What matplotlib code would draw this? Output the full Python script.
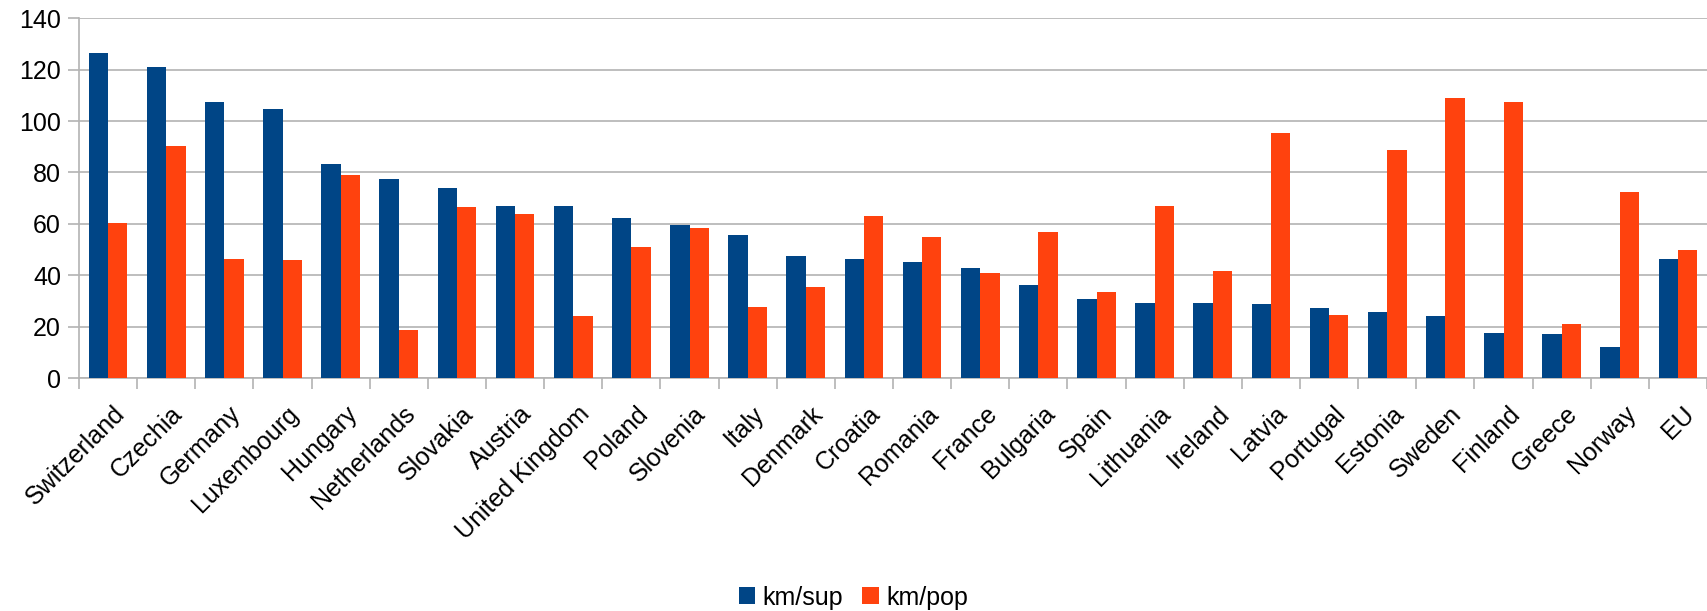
import numpy as np
import matplotlib.pyplot as plt
import matplotlib.transforms as mtransforms
from matplotlib.ticker import FixedLocator

plt.rcParams['font.family'] = ['Liberation Sans', 'DejaVu Sans']

# -------------------
# Data
# -------------------

countries = [
    "Switzerland", "Czechia", "Germany", "Luxembourg", "Hungary",
    "Netherlands", "Slovakia", "Austria", "United Kingdom", "Poland",
    "Slovenia", "Italy", "Denmark", "Croatia", "Romania", "France",
    "Bulgaria", "Spain", "Lithuania", "Ireland", "Latvia", "Portugal",
    "Estonia", "Sweden", "Finland", "Greece", "Norway", "EU",
]

km_sup = [
    126.5, 121.1, 107.5, 104.7, 83.4, 77.5, 74.0, 67.0, 67.0, 62.1,
    59.6, 55.7, 47.6, 46.4, 45.2, 42.9, 36.3, 30.9, 29.3, 29.3,
    28.9, 27.4, 25.8, 24.2, 17.6, 17.2, 12.2, 46.4,
]

km_pop = [
    60.4, 90.4, 46.4, 46.0, 79.1, 18.8, 66.6, 63.9, 24.2, 51.1,
    58.5, 27.7, 35.5, 63.1, 55.0, 41.0, 56.9, 33.6, 67.0, 41.7,
    95.4, 24.6, 88.8, 109.0, 107.5, 21.1, 72.5, 49.9,
]

# -------------------
# Figure
# -------------------

fig = plt.figure(figsize=(17.07, 6.11), dpi=100)
ax = fig.add_axes([0.0463, 0.3813, 0.9537, 0.5887])

x = np.arange(len(countries))
w = 1/3
grey = "#b3b3b3"

ax.bar(x - w/2, km_sup, width=w, color="#004586", label="km/sup", zorder=3)
ax.bar(x + w/2, km_pop, width=w, color="#ff420e", label="km/pop", zorder=3)

ax.set_xlim(-0.5, len(countries) - 0.5)
ax.set_ylim(0, 140)
ax.set_yticks(np.arange(0, 141, 20))
ax.yaxis.grid(True, color=grey, linewidth=1.2, zorder=0)

# category labels in the middle, tick marks on the boundaries
ax.set_xticks(x)
ax.set_xticklabels(countries, rotation=45, ha="right", va="top",
                   rotation_mode="anchor", fontsize=18)
ax.tick_params(axis="x", which="major", length=0, pad=17)
shift = mtransforms.ScaledTranslation(4/100, 0, fig.dpi_scale_trans)
for lab in ax.get_xticklabels():
    lab.set_transform(lab.get_transform() + shift)

ax.xaxis.set_minor_locator(FixedLocator(np.arange(-0.5, len(countries), 1)))
ax.tick_params(axis="x", which="minor", length=8, color=grey, width=1.2)
ax.tick_params(axis="y", length=8, color=grey, width=1.2,
               labelsize=18, pad=5)

for s in ["top", "right"]:
    ax.spines[s].set_visible(False)
for s in ["left", "bottom"]:
    ax.spines[s].set_color(grey)
    ax.spines[s].set_linewidth(1.2)

fig.legend(loc="center", bbox_to_anchor=(0.5, 0.022), ncol=2,
           frameon=False, fontsize=18, handlelength=0.65, handleheight=0.65,
           handletextpad=0.3, columnspacing=0.75, borderpad=0)

fig.savefig("out.png", dpi=100)
